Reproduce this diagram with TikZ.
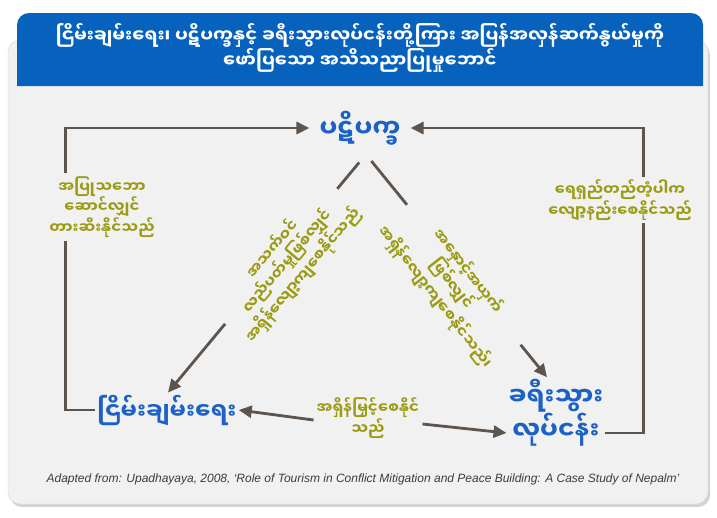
\documentclass[tikz,border=0pt]{standalone}
\usepackage{fontspec}
\setmainfont{Liberation Sans}
\newfontfamily\mmfont[Script=Myanmar]{Noto Sans Myanmar UI}
\usetikzlibrary{arrows.meta,shadows}
\definecolor{panelbg}{RGB}{241,241,241}
\definecolor{panelline}{RGB}{212,212,212}
\definecolor{hdrblue}{RGB}{6,98,188}
\definecolor{nodeblue}{RGB}{28,98,198}
\definecolor{olive}{RGB}{155,155,20}
\definecolor{arrowcol}{RGB}{94,84,78}
\definecolor{srccol}{RGB}{60,60,60}
\begin{document}
\begin{tikzpicture}[x=1pt,y=-1pt,>={Triangle[length=13pt,width=12pt]},line join=miter,
  concept/.style={text=nodeblue,font=\mmfont\bfseries\fontsize{25}{31}\selectfont,align=center,inner sep=2pt},
  effect/.style={text=olive,font=\mmfont\bfseries\fontsize{15}{19}\selectfont,align=center,fill=panelbg,inner sep=3pt},
  link/.style={->,draw=arrowcol,line width=2.8pt}]
\useasboundingbox (0,0) rectangle (717,517);
%%
\fill[panelbg,draw=panelline,rounded corners=12pt,drop shadow={shadow xshift=2pt,shadow yshift=-3pt,opacity=.35}] (8,40) rectangle (708,504);
\fill[hdrblue] (17,86) [rounded corners=12pt]-- (17,13) -- (703,13) [sharp corners]-- (703,86) -- cycle;
\node (title) at (360,48) [text=white,font=\mmfont\bfseries\fontsize{18}{23}\selectfont,align=center] {ငြိမ်းချမ်းရေး၊ ပဋိပက္ခနှင့် ခရီးသွားလုပ်ငန်းတို့ကြား အပြန်အလှန်ဆက်နွယ်မှုကို\\ဖော်ပြသော အသိသညာပြုမှုဘောင်};
%
\node (conflict) at (360,128) [concept] {ပဋိပက္ခ};
\node (peace) at (167,410) [concept,font=\mmfont\bfseries\fontsize{23}{29}\selectfont] {ငြိမ်းချမ်းရေး};
\node (tourism) at (556,413) [concept] {ခရီးသွား\\လုပ်ငန်း};
\node (boost) at (368,418) [effect] {အရှိန်မြှင့်စေနိုင်\\သည်};
%
\draw [link,shorten >=8pt] (peace.west) -- ++(-30,0) |- (conflict.west);
\draw [link,shorten >=8pt] ([yshift=-20pt]tourism.east) -- ++(38,0) |- (conflict.east);
\draw [link,shorten <=20pt] ([xshift=12pt]conflict.south) -- ([xshift=1pt]peace.north);
\draw [link,shorten <=18pt] (conflict.south) -- ([xshift=-9pt]tourism.north);
\draw [link] ([yshift=-2pt]boost.west) -- (peace.east);
\draw [link] ([yshift=-6pt]boost.east) -- ([yshift=-20pt]tourism.west);
%
\node (prevent) at (102,207) [effect] {အပြုသဘော\\ဆောင်လျှင်\\တားဆီးနိုင်သည်};
\node (reduce) at (620,200) [effect] {ရေရှည်တည်တံ့ပါက\\လျော့နည်းစေနိုင်သည်};
\node (slowpeace) at (288,262) [effect,rotate=50] {အသက်ဝင်\\လည်ပတ်မှုဖြစ်လျှင်\\အရှိန်လျော့ကျစေနိုင်သည်};
\node (slowtour) at (452,284) [effect,rotate=-52] {အနှောင့်အယှက်\\ဖြစ်လျှင်\\အရှိန်လျော့ကျစေနိုင်သည်၊};
%
\node (source) at (363,479) [text=srccol,font=\itshape\fontsize{12}{14}\selectfont] {Adapted from: Upadhayaya, 2008, ‘Role of Tourism in Conflict Mitigation and Peace Building: A Case Study of Nepalm’};
\end{tikzpicture}
\end{document}
